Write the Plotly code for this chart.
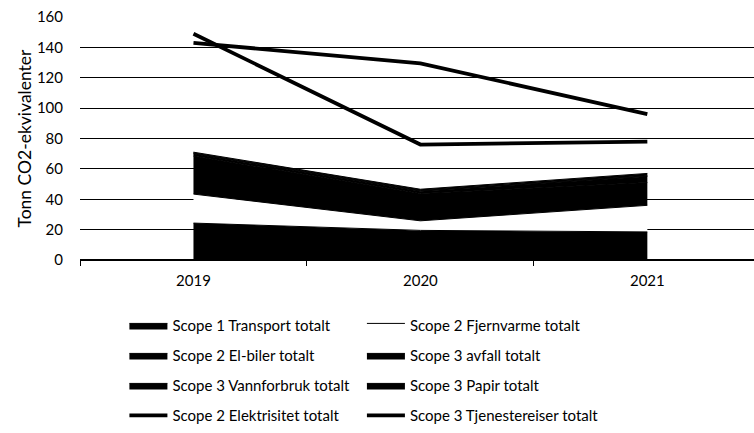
import plotly.graph_objects as go

years = ["2019", "2020", "2021"]

# Stacked emission sources (tonn CO2-ekvivalenter)
transport = [24.3, 19.5, 18.5]
fjernvarme = [19.1, 6.3, 17.5]
el_biler = [25.0, 18.0, 15.0]
avfall = [1.5, 1.5, 4.0]
vannforbruk = [0.5, 0.5, 0.5]
papir = [0.6, 0.8, 1.5]

# Line series
elektrisitet = [143, 129.5, 96]
tjenestereiser = [149, 76, 78]

Y_TITLE = "Tonn CO2-ekvivalenter"
FONT = "Lato"

fig = go.Figure()

areas = [
    ("Scope 1 Transport totalt", transport, "black", "legend"),
    ("Scope 2 Fjernvarme totalt", fjernvarme, "white", "legend2"),
    ("Scope 2 El-biler totalt", el_biler, "black", "legend"),
    ("Scope 3 avfall totalt", avfall, "black", "legend2"),
    ("Scope 3 Vannforbruk totalt", vannforbruk, "black", "legend"),
    ("Scope 3 Papir totalt", papir, "black", "legend2"),
]
for i, (name, vals, fillc, lg) in enumerate(areas):
    fig.add_trace(go.Scatter(
        x=years, y=vals, name=name, mode="lines",
        stackgroup="scope", fillcolor=fillc,
        line=dict(color="black", width=1),
        legend=lg, legendgroup=f"g{i}",
    ))

lines = [
    ("Scope 2 Elektrisitet totalt", elektrisitet, "legend"),
    ("Scope 3 Tjenestereiser totalt", tjenestereiser, "legend2"),
]
for j, (name, vals, lg) in enumerate(lines):
    fig.add_trace(go.Scatter(
        x=years, y=vals, name=name, mode="lines",
        line=dict(color="black", width=3.8),
        legend=lg, legendgroup=f"l{j}",
    ))

legend_common = dict(
    xref="container", yref="container", yanchor="top", xanchor="left",
    font=dict(family=FONT, size=15, color="black"),
    itemwidth=38, tracegroupgap=7.5, bgcolor="rgba(0,0,0,0)",
    orientation="v",
)

fig.update_layout(
    width=754, height=433,
    margin=dict(l=80, r=0, t=17, b=173, autoexpand=False),
    paper_bgcolor="white", plot_bgcolor="white",
    font=dict(family=FONT, size=15, color="black"),
    showlegend=True,
    legend=dict(x=0.165, y=0.286, **legend_common),
    legend2=dict(x=0.48, y=0.286, **legend_common),
    xaxis=dict(
        type="category", range=[-0.5, 2.47],
        showgrid=False, showline=False, zeroline=False,
        ticks="outside", tickson="boundaries", ticklen=5, tickcolor="black",
        ticklabelstandoff=10,
        tickfont=dict(family=FONT, size=15, color="black"),
    ),
    yaxis=dict(
        range=[0, 160], dtick=20,
        showgrid=True, gridcolor="black", gridwidth=1,
        zeroline=True, zerolinecolor="black", zerolinewidth=1.5,
        showline=False, ticks="",
        ticklabelstandoff=16,
        tickfont=dict(family=FONT, size=15, color="black"),
    ),
    annotations=[dict(
        text=Y_TITLE, xref="paper", yref="paper",
        x=-0.083, y=0.5, xanchor="center", yanchor="middle",
        textangle=-90, showarrow=False,
        font=dict(family=FONT, size=17.5, color="black"),
    )],
)

fig.write_html("out.html")
